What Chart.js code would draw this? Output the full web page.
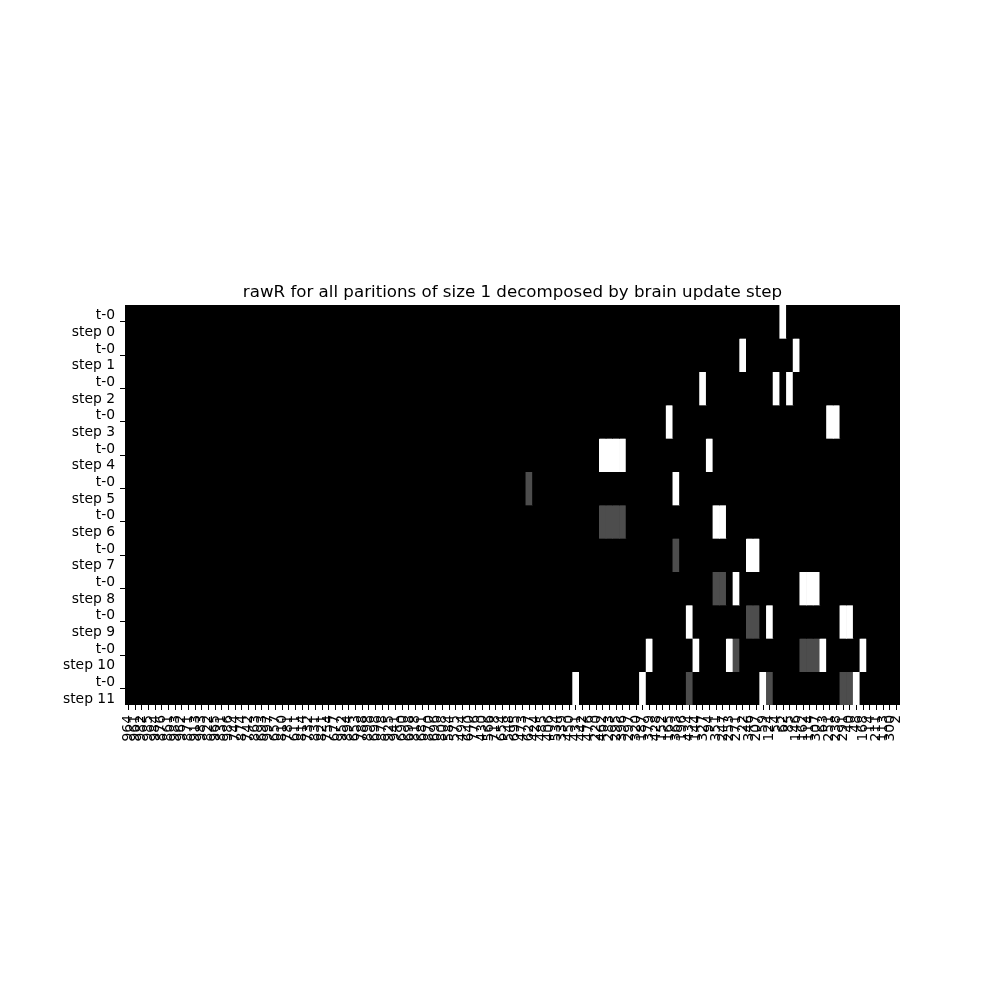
<!DOCTYPE html>
<html>
<head>
<meta charset="utf-8">
<script src="https://cdn.jsdelivr.net/npm/chart.js@4.4.1/dist/chart.umd.min.js"></script>
<style>
html,body{margin:0;padding:0;background:#fff;}
#wrap{width:1000px;height:1000px;}
</style>
</head>
<body>
<div id="wrap"><canvas id="c" width="1000" height="1000"></canvas></div>
<script>
const chartTitle = "rawR for all paritions of size 1 decomposed by brain update step";

const xLabels = [
"964","961","982","985","984","876","861","983","962","871",
"913","983","822","965","831","986","744","874","742","863",
"693","997","657","810","781","611","814","732","831","821",
"754","677","952","894","653","788","898","698","878","925",
"941","690","698","818","681","870","696","808","584","575",
"494","640","776","430","566","718","654","548","695","473",
"627","424","485","406","534","339","450","431","442","476",
"220","462","283","295","396","297","320","187","379","428",
"152","165","363","196","434","144","327","94","351","247",
"253","271","22","346","207","59","124","54","62","85",
"146","162","114","307","63","251","238","291","40","48",
"168","14","211","113","300","2"
];

const rowLabels = [
["t-0","step 0"],["t-0","step 1"],["t-0","step 2"],["t-0","step 3"],
["t-0","step 4"],["t-0","step 5"],["t-0","step 6"],["t-0","step 7"],
["t-0","step 8"],["t-0","step 9"],["t-0","step 10"],["t-0","step 11"]
];

const step0 = [
0,0,0,0,0,0,0,0,0,0,0,0,0,0,0,0,0,0,0,0,
0,0,0,0,0,0,0,0,0,0,0,0,0,0,0,0,0,0,0,0,
0,0,0,0,0,0,0,0,0,0,0,0,0,0,0,0,0,0,0,0,
0,0,0,0,0,0,0,0,0,0,0,0,0,0,0,0,0,0,0,0,
0,0,0,0,0,0,0,0,0,0,0,0,0,0,0,0,0,0,1,0,
0,0,0,0,0,0,0,0,0,0,0,0,0,0,0,0];
const step1 = [
0,0,0,0,0,0,0,0,0,0,0,0,0,0,0,0,0,0,0,0,
0,0,0,0,0,0,0,0,0,0,0,0,0,0,0,0,0,0,0,0,
0,0,0,0,0,0,0,0,0,0,0,0,0,0,0,0,0,0,0,0,
0,0,0,0,0,0,0,0,0,0,0,0,0,0,0,0,0,0,0,0,
0,0,0,0,0,0,0,0,0,0,0,0,1,0,0,0,0,0,0,0,
1,0,0,0,0,0,0,0,0,0,0,0,0,0,0,0];
const step2 = [
0,0,0,0,0,0,0,0,0,0,0,0,0,0,0,0,0,0,0,0,
0,0,0,0,0,0,0,0,0,0,0,0,0,0,0,0,0,0,0,0,
0,0,0,0,0,0,0,0,0,0,0,0,0,0,0,0,0,0,0,0,
0,0,0,0,0,0,0,0,0,0,0,0,0,0,0,0,0,0,0,0,
0,0,0,0,0,0,1,0,0,0,0,0,0,0,0,0,0,1,0,1,
0,0,0,0,0,0,0,0,0,0,0,0,0,0,0,0];
const step3 = [
0,0,0,0,0,0,0,0,0,0,0,0,0,0,0,0,0,0,0,0,
0,0,0,0,0,0,0,0,0,0,0,0,0,0,0,0,0,0,0,0,
0,0,0,0,0,0,0,0,0,0,0,0,0,0,0,0,0,0,0,0,
0,0,0,0,0,0,0,0,0,0,0,0,0,0,0,0,0,0,0,0,
0,1,0,0,0,0,0,0,0,0,0,0,0,0,0,0,0,0,0,0,
0,0,0,0,0,1,1,0,0,0,0,0,0,0,0,0];
const step4 = [
0,0,0,0,0,0,0,0,0,0,0,0,0,0,0,0,0,0,0,0,
0,0,0,0,0,0,0,0,0,0,0,0,0,0,0,0,0,0,0,0,
0,0,0,0,0,0,0,0,0,0,0,0,0,0,0,0,0,0,0,0,
0,0,0,0,0,0,0,0,0,0,0,1,1,1,1,0,0,0,0,0,
0,0,0,0,0,0,0,1,0,0,0,0,0,0,0,0,0,0,0,0,
0,0,0,0,0,0,0,0,0,0,0,0,0,0,0,0];
const step5 = [
0,0,0,0,0,0,0,0,0,0,0,0,0,0,0,0,0,0,0,0,
0,0,0,0,0,0,0,0,0,0,0,0,0,0,0,0,0,0,0,0,
0,0,0,0,0,0,0,0,0,0,0,0,0,0,0,0,0,0,0,0,
0.3,0,0,0,0,0,0,0,0,0,0,0,0,0,0,0,0,0,0,0,
0,0,1,0,0,0,0,0,0,0,0,0,0,0,0,0,0,0,0,0,
0,0,0,0,0,0,0,0,0,0,0,0,0,0,0,0];
const step6 = [
0,0,0,0,0,0,0,0,0,0,0,0,0,0,0,0,0,0,0,0,
0,0,0,0,0,0,0,0,0,0,0,0,0,0,0,0,0,0,0,0,
0,0,0,0,0,0,0,0,0,0,0,0,0,0,0,0,0,0,0,0,
0,0,0,0,0,0,0,0,0,0,0,0.3,0.3,0.3,0.3,0,0,0,0,0,
0,0,0,0,0,0,0,0,1,1,0,0,0,0,0,0,0,0,0,0,
0,0,0,0,0,0,0,0,0,0,0,0,0,0,0,0];
const step7 = [
0,0,0,0,0,0,0,0,0,0,0,0,0,0,0,0,0,0,0,0,
0,0,0,0,0,0,0,0,0,0,0,0,0,0,0,0,0,0,0,0,
0,0,0,0,0,0,0,0,0,0,0,0,0,0,0,0,0,0,0,0,
0,0,0,0,0,0,0,0,0,0,0,0,0,0,0,0,0,0,0,0,
0,0,0.3,0,0,0,0,0,0,0,0,0,0,1,1,0,0,0,0,0,
0,0,0,0,0,0,0,0,0,0,0,0,0,0,0,0];
const step8 = [
0,0,0,0,0,0,0,0,0,0,0,0,0,0,0,0,0,0,0,0,
0,0,0,0,0,0,0,0,0,0,0,0,0,0,0,0,0,0,0,0,
0,0,0,0,0,0,0,0,0,0,0,0,0,0,0,0,0,0,0,0,
0,0,0,0,0,0,0,0,0,0,0,0,0,0,0,0,0,0,0,0,
0,0,0,0,0,0,0,0,0.3,0.3,0,1,0,0,0,0,0,0,0,0,
0,1,1,1,0,0,0,0,0,0,0,0,0,0,0,0];
const step9 = [
0,0,0,0,0,0,0,0,0,0,0,0,0,0,0,0,0,0,0,0,
0,0,0,0,0,0,0,0,0,0,0,0,0,0,0,0,0,0,0,0,
0,0,0,0,0,0,0,0,0,0,0,0,0,0,0,0,0,0,0,0,
0,0,0,0,0,0,0,0,0,0,0,0,0,0,0,0,0,0,0,0,
0,0,0,0,1,0,0,0,0,0,0,0,0,0.3,0.3,0,1,0,0,0,
0,0,0,0,0,0,0,1,1,0,0,0,0,0,0,0];
const step10 = [
0,0,0,0,0,0,0,0,0,0,0,0,0,0,0,0,0,0,0,0,
0,0,0,0,0,0,0,0,0,0,0,0,0,0,0,0,0,0,0,0,
0,0,0,0,0,0,0,0,0,0,0,0,0,0,0,0,0,0,0,0,
0,0,0,0,0,0,0,0,0,0,0,0,0,0,0,0,0,0,1,0,
0,0,0,0,0,1,0,0,0,0,1,0.3,0,0,0,0,0,0,0,0,
0,0.3,0.3,0.3,1,0,0,0,0,0,1,0,0,0,0,0];
const step11 = [
0,0,0,0,0,0,0,0,0,0,0,0,0,0,0,0,0,0,0,0,
0,0,0,0,0,0,0,0,0,0,0,0,0,0,0,0,0,0,0,0,
0,0,0,0,0,0,0,0,0,0,0,0,0,0,0,0,0,0,0,0,
0,0,0,0,0,0,0,1,0,0,0,0,0,0,0,0,0,1,0,0,
0,0,0,0,0.3,0,0,0,0,0,0,0,0,0,0,1,0.3,0,0,0,
0,0,0,0,0,0,0,0.3,0.3,1,0,0,0,0,0,0];

const rows = [step0,step1,step2,step3,step4,step5,step6,step7,step8,step9,step10,step11];

function grayColor(v){
  const g = Math.round(v * 255);
  return 'rgb(' + g + ',' + g + ',' + g + ')';
}

const datasets = rows.map((vals, r) => ({
  label: rowLabels[r].join(' '),
  data: vals.map(() => [r, r + 1]),
  backgroundColor: vals.map(grayColor),
  borderWidth: 0,
  barPercentage: 1,
  categoryPercentage: 1,
  grouped: false
}));

const areaBg = {
  id: 'areaBg',
  beforeDatasetsDraw(chart) {
    const a = chart.chartArea, ctx = chart.ctx;
    ctx.save();
    ctx.fillStyle = '#000';
    ctx.fillRect(a.left, a.top, a.right - a.left, a.bottom - a.top);
    ctx.restore();
  }
};

// nudge y tick labels down slightly to match matplotlib's baseline centring
const yLabelNudge = {
  id: 'yLabelNudge',
  beforeDraw(chart) {
    const s = chart.scales.y;
    const items = s.getLabelItems(chart.chartArea);
    items.forEach(it => {
      if (!it._nudged) {
        it.options.translation = [it.options.translation[0], it.options.translation[1] + 2.5];
        it._nudged = true;
      }
    });
  }
};

const FONT = "'DejaVu Sans', sans-serif";

new Chart(document.getElementById('c'), {
  type: 'bar',
  data: { labels: xLabels, datasets: datasets },
  plugins: [areaBg, yLabelNudge],
  options: {
    responsive: false,
    animation: false,
    layout: { padding: { left: 0, right: 100, top: 0, bottom: 0 } },
    plugins: {
      legend: { display: false },
      tooltip: { enabled: false },
      title: {
        display: true,
        text: chartTitle,
        fullSize: false,
        color: '#000',
        font: { family: FONT, size: 16.67, weight: 'normal', lineHeight: 1.2 },
        padding: { top: 282.5, bottom: 2.5 }
      }
    },
    scales: {
      x: {
        type: 'category',
        offset: true,
        border: { display: false },
        grid: { offset: false, drawOnChartArea: false, drawTicks: true, tickLength: 5, color: '#000', tickWidth: 1 },
        ticks: {
          autoSkip: false, maxRotation: 90, minRotation: 90, padding: 5,
          color: '#000', font: { family: FONT, size: 13.89 }
        },
        afterFit(scale) { scale.height = 295; }
      },
      y: {
        type: 'linear',
        min: 0, max: 12, reverse: true,
        border: { display: false },
        grid: { drawOnChartArea: false, drawTicks: true, tickLength: 5, color: '#000', tickWidth: 1 },
        afterBuildTicks(scale) {
          scale.ticks = rowLabels.map((l, i) => ({ value: i + 0.5 }));
        },
        ticks: {
          padding: 5, color: '#000',
          font: { family: FONT, size: 13.89, lineHeight: 1.2 },
          callback: (v, i) => rowLabels[i]
        },
        afterFit(scale) { scale.width = 125; }
      }
    }
  }
});
</script>
</body>
</html>
